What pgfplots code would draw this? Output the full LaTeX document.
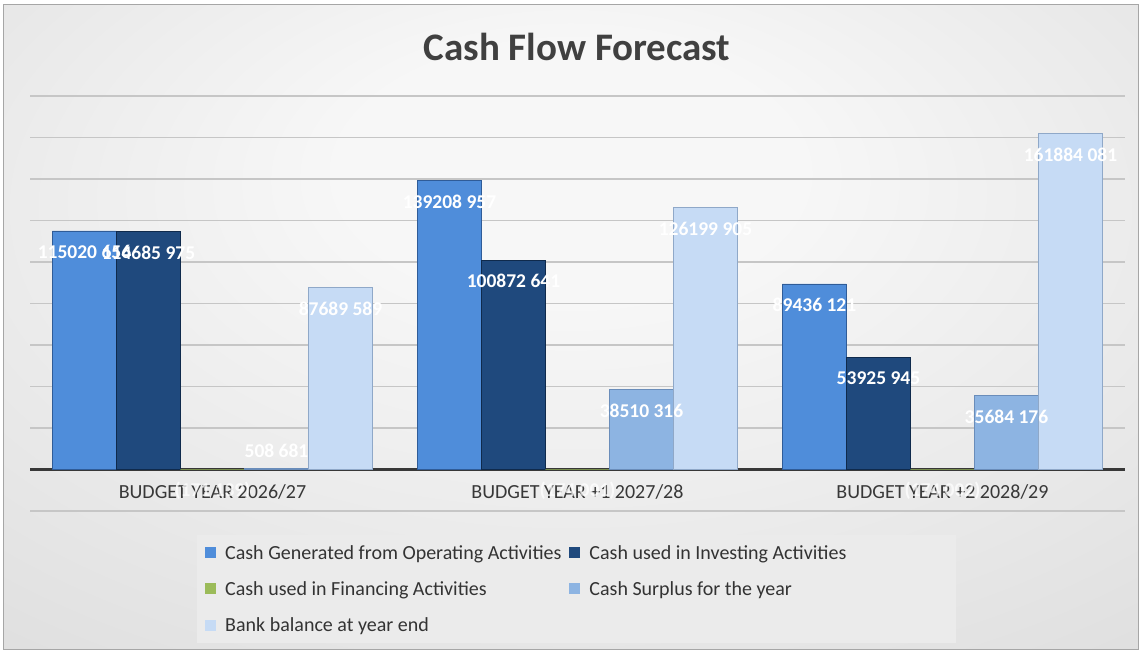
\documentclass[border=0pt]{standalone}
\usepackage{pgfplots}
\pgfplotsset{compat=1.18}
\usepackage{pgfplotstable}
\usepackage{fontspec}
\setmainfont{Carlito}

\definecolor{opM}{HTML}{4F8DDA}
\definecolor{opR}{HTML}{2F5C98}
\definecolor{inM}{HTML}{1F497D}
\definecolor{inR}{HTML}{0F2A4C}
\definecolor{fin}{HTML}{9BBB59}
\definecolor{suM}{HTML}{8DB4E2}
\definecolor{suR}{HTML}{6A8DBA}
\definecolor{baM}{HTML}{C6DBF5}
\definecolor{baR}{HTML}{8FA8C8}
\definecolor{bgin}{HTML}{F7F7F7}
\definecolor{bgmid}{HTML}{DEDEDE}
\definecolor{bgout}{HTML}{BEBEBE}
\definecolor{legbg}{HTML}{EBEBEB}
\definecolor{titlec}{HTML}{404040}

\pgfdeclareradialshading{chartbg}{\pgfpoint{0bp}{14bp}}{color(0bp)=(bgin); color(10bp)=(bgin); color(42bp)=(bgmid); color(72bp)=(bgout)}

\pgfplotstableread[col sep=comma]{
x,y,label,shift
0,115020656,115020 656,-21
1,139208957,139208 957,-21
2,89436121,89436 121,-21
}\operating
\pgfplotstableread[col sep=comma]{
x,y,label,shift
0,114685975,114685 975,-21
1,100872641,100872 641,-21
2,53925945,53925 945,-21
}\investing
\pgfplotstableread[col sep=comma]{
x,y,label,shift
0,-171139,(171 139),-21
1,-174001,(174 001),-21
2,-174002,(174 002),-21
}\financing
\pgfplotstableread[col sep=comma]{
x,y,label,shift
0,508681,508 681,18
1,38510316,38510 316,-21
2,35684176,35684 176,-21
}\surplus
\pgfplotstableread[col sep=comma]{
x,y,label,shift
0,87689589,87689 589,-21
1,126199905,126199 905,-21
2,161884081,161884 081,-21
}\bank

\begin{document}
\begin{tikzpicture}[x=1pt,y=1pt]
\fill[white] (0,0) rectangle (1141,653);
\shade[shading=chartbg, draw=gray!70, line width=1pt] (3,3) rectangle (1138,648);
\node[font=\bfseries\fontsize{39}{44}\selectfont, text=titlec] at (577,606) {Cash Flow Forecast};
\begin{axis}[
  at={(30pt,142pt)}, anchor=south west,
  scale only axis, width=1095pt, height=415pt,
  xmin=-0.5, xmax=2.5,
  ymin=-20000000, ymax=180000000,
  ytick={-20000000,0,20000000,40000000,60000000,80000000,100000000,120000000,140000000,160000000,180000000},
  yticklabels={},
  scaled y ticks=false,
  major tick length=0pt,
  axis line style={draw=none},
  ymajorgrids,
  grid style={draw=gray!45, line width=1.6pt},
  extra y ticks={0},
  extra y tick labels={},
  extra y tick style={grid style={draw=black!78, line width=2.6pt}},
  xtick={0,1,2},
  xticklabels={BUDGET YEAR 2026/27, BUDGET YEAR +1 2027/28, BUDGET YEAR +2 2028/29},
  xticklabel style={font=\fontsize{20}{24}\selectfont, text=black!78, anchor=center, yshift=19pt},
  ybar=0pt, bar width=64pt,
  nodes near coords,
  point meta=explicit symbolic,
  every node near coord/.append style={font=\bfseries\fontsize{19.5}{22}\selectfont, text=white, anchor=center, yshift=\myshift},
  legend columns=2,
  legend cell align=left,
  legend image code/.code={\path[#1, draw=none] (0pt,-5pt) rectangle (11pt,6pt);},
  legend style={at={(0.1525,-0.0578)}, anchor=north west, fill=legbg, draw=none,
    font=\fontsize{20}{23}\selectfont, text=black!80,
    row sep=17pt, inner xsep=8pt, inner ysep=8pt,
    /tikz/every odd column/.append style={column sep=7pt},
    /tikz/every even column/.append style={column sep=6pt}},
]
\addplot[ybar, draw=opR, line width=0.6pt, fill=opM,
  visualization depends on={\thisrow{shift}\as\myshift}]
  table[x=x, y=y, meta=label] {\operating};
\addlegendentry{Cash Generated from Operating Activities}
\addplot[ybar, draw=inR, line width=0.6pt, fill=inM,
  visualization depends on={\thisrow{shift}\as\myshift}]
  table[x=x, y=y, meta=label] {\investing};
\addlegendentry{Cash used in Investing Activities\hspace*{100pt}}
\addplot[ybar, draw=none, fill=fin,
  every node near coord/.append style={text=white, opacity=0.75},
  visualization depends on={\thisrow{shift}\as\myshift}]
  table[x=x, y=y, meta=label] {\financing};
\addlegendentry{Cash used in Financing Activities}
\addplot[ybar, draw=suR, line width=0.6pt, fill=suM,
  visualization depends on={\thisrow{shift}\as\myshift}]
  table[x=x, y=y, meta=label] {\surplus};
\addlegendentry{Cash Surplus for the year}
\addplot[ybar, draw=baR, line width=0.6pt, fill=baM,
  visualization depends on={\thisrow{shift}\as\myshift}]
  table[x=x, y=y, meta=label] {\bank};
\addlegendentry{Bank balance at year end}
\end{axis}
\end{tikzpicture}
\end{document}
